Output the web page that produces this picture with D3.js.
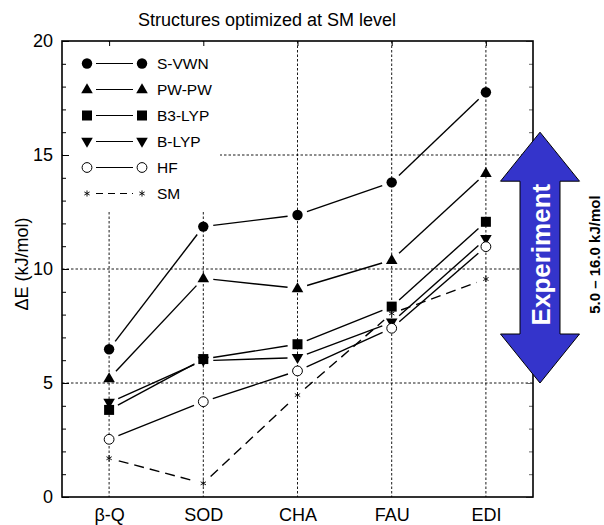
<!DOCTYPE html>
<html>
<head>
<meta charset="utf-8">
<script src="https://cdn.jsdelivr.net/npm/d3@7"></script>
<style>
  html, body { margin: 0; padding: 0; background: #fff; }
  svg { display: block; font-family: "Liberation Sans", Arial, Helvetica, sans-serif; }
</style>
</head>
<body>
<svg id="chart" width="604" height="525"></svg>
<script>
// Zeolite frameworks along the x axis
const categories = ["β-Q", "SOD", "CHA", "FAU", "EDI"];

// ΔE (kJ/mol) per method
const sVWN  = [6.48, 11.86, 12.37, 13.80, 17.75];
const pwPW  = [5.20,  9.59,  9.15, 10.39, 14.20];
const b3LYP = [3.82,  6.05,  6.70,  8.35, 12.07];
const bLYP  = [4.14,  5.98,  6.11,  7.66, 11.32];
const hf    = [2.53,  4.18,  5.53,  7.40, 10.98];
const sm    = [1.70,  0.60,  4.47,  8.05,  9.56];

const seriesNames = ["S-VWN", "PW-PW", "B3-LYP", "B-LYP", "HF", "SM"];
const yTickLabels = [0, 5, 10, 15, 20];
const gridValues = [5, 10, 15];

// Experimental range
const expLow = 5.0, expHigh = 16.0;
const expLabel = "5.0 – 16.0 kJ/mol";

const svg = d3.select("#chart");
const L = 62, R = 533, T = 41, B = 497;

const x = d3.scaleLinear().domain([-0.5, categories.length - 0.5]).range([L, R]);
const y = d3.scaleLinear().domain([0, 20]).range([B, T]);

// marker shapes
const shapes = {
  circle:  s => s.append("circle").attr("r", 5.2).attr("fill", "#000"),
  tri:     s => s.append("path").attr("d", "M0,-6.2L5.8,3.8L-5.8,3.8Z").attr("fill", "#000"),
  square:  s => s.append("rect").attr("x", -5).attr("y", -5).attr("width", 10).attr("height", 10).attr("fill", "#000"),
  triDown: s => s.append("path").attr("d", "M0,6.2L5.8,-3.8L-5.8,-3.8Z").attr("fill", "#000"),
  open:    s => s.append("circle").attr("r", 4.9).attr("fill", "#fff").attr("stroke", "#000").attr("stroke-width", 1),
  star:    s => s.append("path").attr("d", d3.symbol(d3.symbolAsterisk, 26)()).attr("fill", "none").attr("stroke", "#000").attr("stroke-width", 0.9)
};

const series = [
  { name: seriesNames[0], values: sVWN,  shape: "circle",  dash: null },
  { name: seriesNames[1], values: pwPW,  shape: "tri",     dash: null },
  { name: seriesNames[2], values: b3LYP, shape: "square",  dash: null },
  { name: seriesNames[3], values: bLYP,  shape: "triDown", dash: null },
  { name: seriesNames[4], values: hf,    shape: "open",    dash: null },
  { name: seriesNames[5], values: sm,    shape: "star",    dash: "10,6" }
];

// ---- grid ----
const grid = svg.append("g").attr("stroke", "#000").attr("stroke-width", 0.9).attr("stroke-dasharray", "2.5,2");
grid.selectAll("line.v").data(categories.map((c, i) => i)).join("line")
  .attr("x1", d => x(d)).attr("x2", d => x(d)).attr("y1", T).attr("y2", B);
grid.selectAll("line.h").data(gridValues).join("line")
  .attr("x1", L).attr("x2", R).attr("y1", d => y(d)).attr("y2", d => y(d));

// legend background hides grid behind it
svg.append("rect").attr("x", L + 1).attr("y", T + 1).attr("width", 157).attr("height", 170).attr("fill", "#fff");

// ---- axes ----
const yLeft = svg.append("g").attr("transform", `translate(${L},0)`)
  .call(d3.axisLeft(y).tickValues(d3.range(0, 21)).tickSize(-4).tickPadding(9)
    .tickFormat(d => yTickLabels.includes(d) ? d : ""));
yLeft.selectAll(".tick line").attr("x2", d => d % 5 === 0 ? 7 : 4);
const yRight = svg.append("g").attr("transform", `translate(${R},0)`)
  .call(d3.axisRight(y).tickValues(d3.range(0, 21)).tickSize(-4).tickFormat(""));
yRight.selectAll(".tick line").attr("x2", d => d % 5 === 0 ? -7 : -4).attr("stroke", "#666");
const xTop = svg.append("g").attr("transform", `translate(0,${T})`)
  .call(d3.axisTop(x).tickValues(categories.map((c, i) => i)).tickSize(-5).tickFormat(""));
const xBot = svg.append("g").attr("transform", `translate(0,${B})`)
  .call(d3.axisBottom(x).tickValues(categories.map((c, i) => i)).tickSize(0).tickPadding(11)
    .tickFormat(i => categories[i]));
[yLeft, yRight, xTop, xBot].forEach(g => {
  g.select(".domain").remove();
  g.selectAll("text").attr("font-size", 18).attr("font-family", "Liberation Sans, Arial, sans-serif").attr("fill", "#000");
});
svg.append("rect").attr("x", L).attr("y", T).attr("width", R - L).attr("height", B - T)
  .attr("fill", "none").attr("stroke", "#000").attr("stroke-width", 1.6);

// ---- series ----
const gap = 10;
series.forEach(s => {
  const pts = s.values.map((v, i) => [x(i), y(v)]);
  const segs = d3.pairs(pts).map(([a, b]) => {
    const dx = b[0] - a[0], dy = b[1] - a[1], len = Math.hypot(dx, dy);
    const ux = dx / len, uy = dy / len;
    return [[a[0] + ux * gap, a[1] + uy * gap], [b[0] - ux * gap, b[1] - uy * gap]];
  });
  const g = svg.append("g");
  g.selectAll("path.seg").data(segs).join("path").attr("class", "seg")
    .attr("d", d3.line()).attr("fill", "none").attr("stroke", "#000").attr("stroke-width", 1.4)
    .attr("stroke-dasharray", s.dash);
  pts.forEach(p => shapes[s.shape](g.append("g").attr("transform", `translate(${p[0]},${p[1]})`)));
});

// ---- legend ----
const lg = svg.append("g");
series.forEach((s, i) => {
  const yy = 63.5 + i * 26;
  shapes[s.shape](lg.append("g").attr("transform", `translate(87,${yy})`));
  shapes[s.shape](lg.append("g").attr("transform", `translate(142,${yy})`));
  lg.append("line").attr("x1", 96).attr("x2", 133).attr("y1", yy).attr("y2", yy)
    .attr("stroke", "#000").attr("stroke-width", 1.2).attr("stroke-dasharray", s.dash ? "7,5" : null);
  lg.append("text").attr("x", 157).attr("y", yy).attr("dy", "0.36em")
    .attr("font-size", 15.5).text(s.name);
});

// ---- experiment arrow ----
const cx = 540, headW = 39.5, shaftW = 20, headH = 49;
const yTop = y(expHigh), yBot = y(expLow);
const arrow = [
  [cx, yTop], [cx + headW, yTop + headH], [cx + shaftW, yTop + headH],
  [cx + shaftW, yBot - headH], [cx + headW, yBot - headH], [cx, yBot],
  [cx - headW, yBot - headH], [cx - shaftW, yBot - headH], [cx - shaftW, yTop + headH],
  [cx - headW, yTop + headH]
];
svg.append("path").attr("d", d3.line()(arrow) + "Z")
  .attr("fill", "#3434cb").attr("stroke", "#000").attr("stroke-width", 1);
const midY = (yTop + yBot) / 2;
svg.append("text").attr("transform", `translate(${cx + 1},${midY - 3}) rotate(-90)`)
  .attr("text-anchor", "middle").attr("dy", "0.36em")
  .attr("font-size", 26).attr("font-weight", "bold").attr("fill", "#fff").text("Experiment");
svg.append("text").attr("transform", `translate(595,${midY - 3}) rotate(-90)`)
  .attr("text-anchor", "middle").attr("dy", "0.36em")
  .attr("font-size", 15).attr("font-weight", "bold").attr("fill", "#000").text(expLabel);

// ---- titles ----
svg.append("text").attr("x", 267).attr("y", 26).attr("text-anchor", "middle")
  .attr("font-size", 18).text("Structures optimized at SM level");
svg.append("text").attr("transform", `translate(22,264) rotate(-90)`)
  .attr("text-anchor", "middle").attr("dy", "0.36em")
  .attr("font-size", 18).text("ΔE (kJ/mol)");
</script>
</body>
</html>
